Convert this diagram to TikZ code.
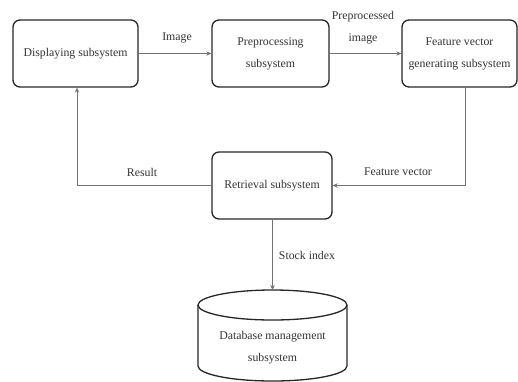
\documentclass[tikz,border=0pt]{standalone}
\usepackage{fontspec}
\setmainfont{Liberation Serif}
\usetikzlibrary{arrows.meta}
\begin{document}
\begin{tikzpicture}[x=1pt,y=-1pt,
  txt/.style={font=\fontsize{11.8}{22}\selectfont, align=center, inner sep=0pt, text=black!80},
  box/.style={txt, draw=black!85, line width=1.3pt, rounded corners=7pt, minimum height=67pt},
  conn/.style={draw=black!55, line width=0.8pt, -{Stealth[length=5pt,width=4.5pt]}},
  dbline/.style={draw=black!85, line width=1.3pt}]
\useasboundingbox (0,0) rectangle (518,381);
\node[box, minimum width=125pt] (disp) at (75.5,53.5) {Displaying subsystem};
\node[box, minimum width=117pt] (pre) at (270.5,53.5) {Preprocessing\\subsystem};
\node[box, minimum width=115pt] (feat) at (459.5,53.5) {Feature vector\\generating subsystem};
\node[box, minimum width=120pt] (ret) at (272,185.5) {Retrieval subsystem};
% database cylinder
\coordinate (db) at (272.5,290);
\draw[dbline] (272.5,305) ellipse [x radius=74.5pt, y radius=15pt];
\draw[dbline] (198,305) -- (198,366) arc[start angle=180, end angle=360, x radius=74.5pt, y radius=15pt] -- (347,305);
\node[txt] (dbtext) at (272.5,347.5) {Database management\\subsystem};
% connectors
\draw[conn] (disp) -- (pre);
\draw[conn] (pre) -- (feat);
\draw[conn] ([xshift=5.5pt]feat.south) |- (ret.east);
\draw[conn] (ret.west) -| ([xshift=1.5pt]disp.south);
\draw[conn] (ret.south -| db) -- (db);
% labels
\node[txt] (limg) at (177,38) {Image};
\node[txt] (lpre) at (363,28) {Preprocessed\\image};
\node[txt] (lres) at (142,172) {Result};
\node[txt] (lfeat) at (398,172) {Feature vector};
\node[txt] (lstock) at (307,255) {Stock index};
\end{tikzpicture}
\end{document}
